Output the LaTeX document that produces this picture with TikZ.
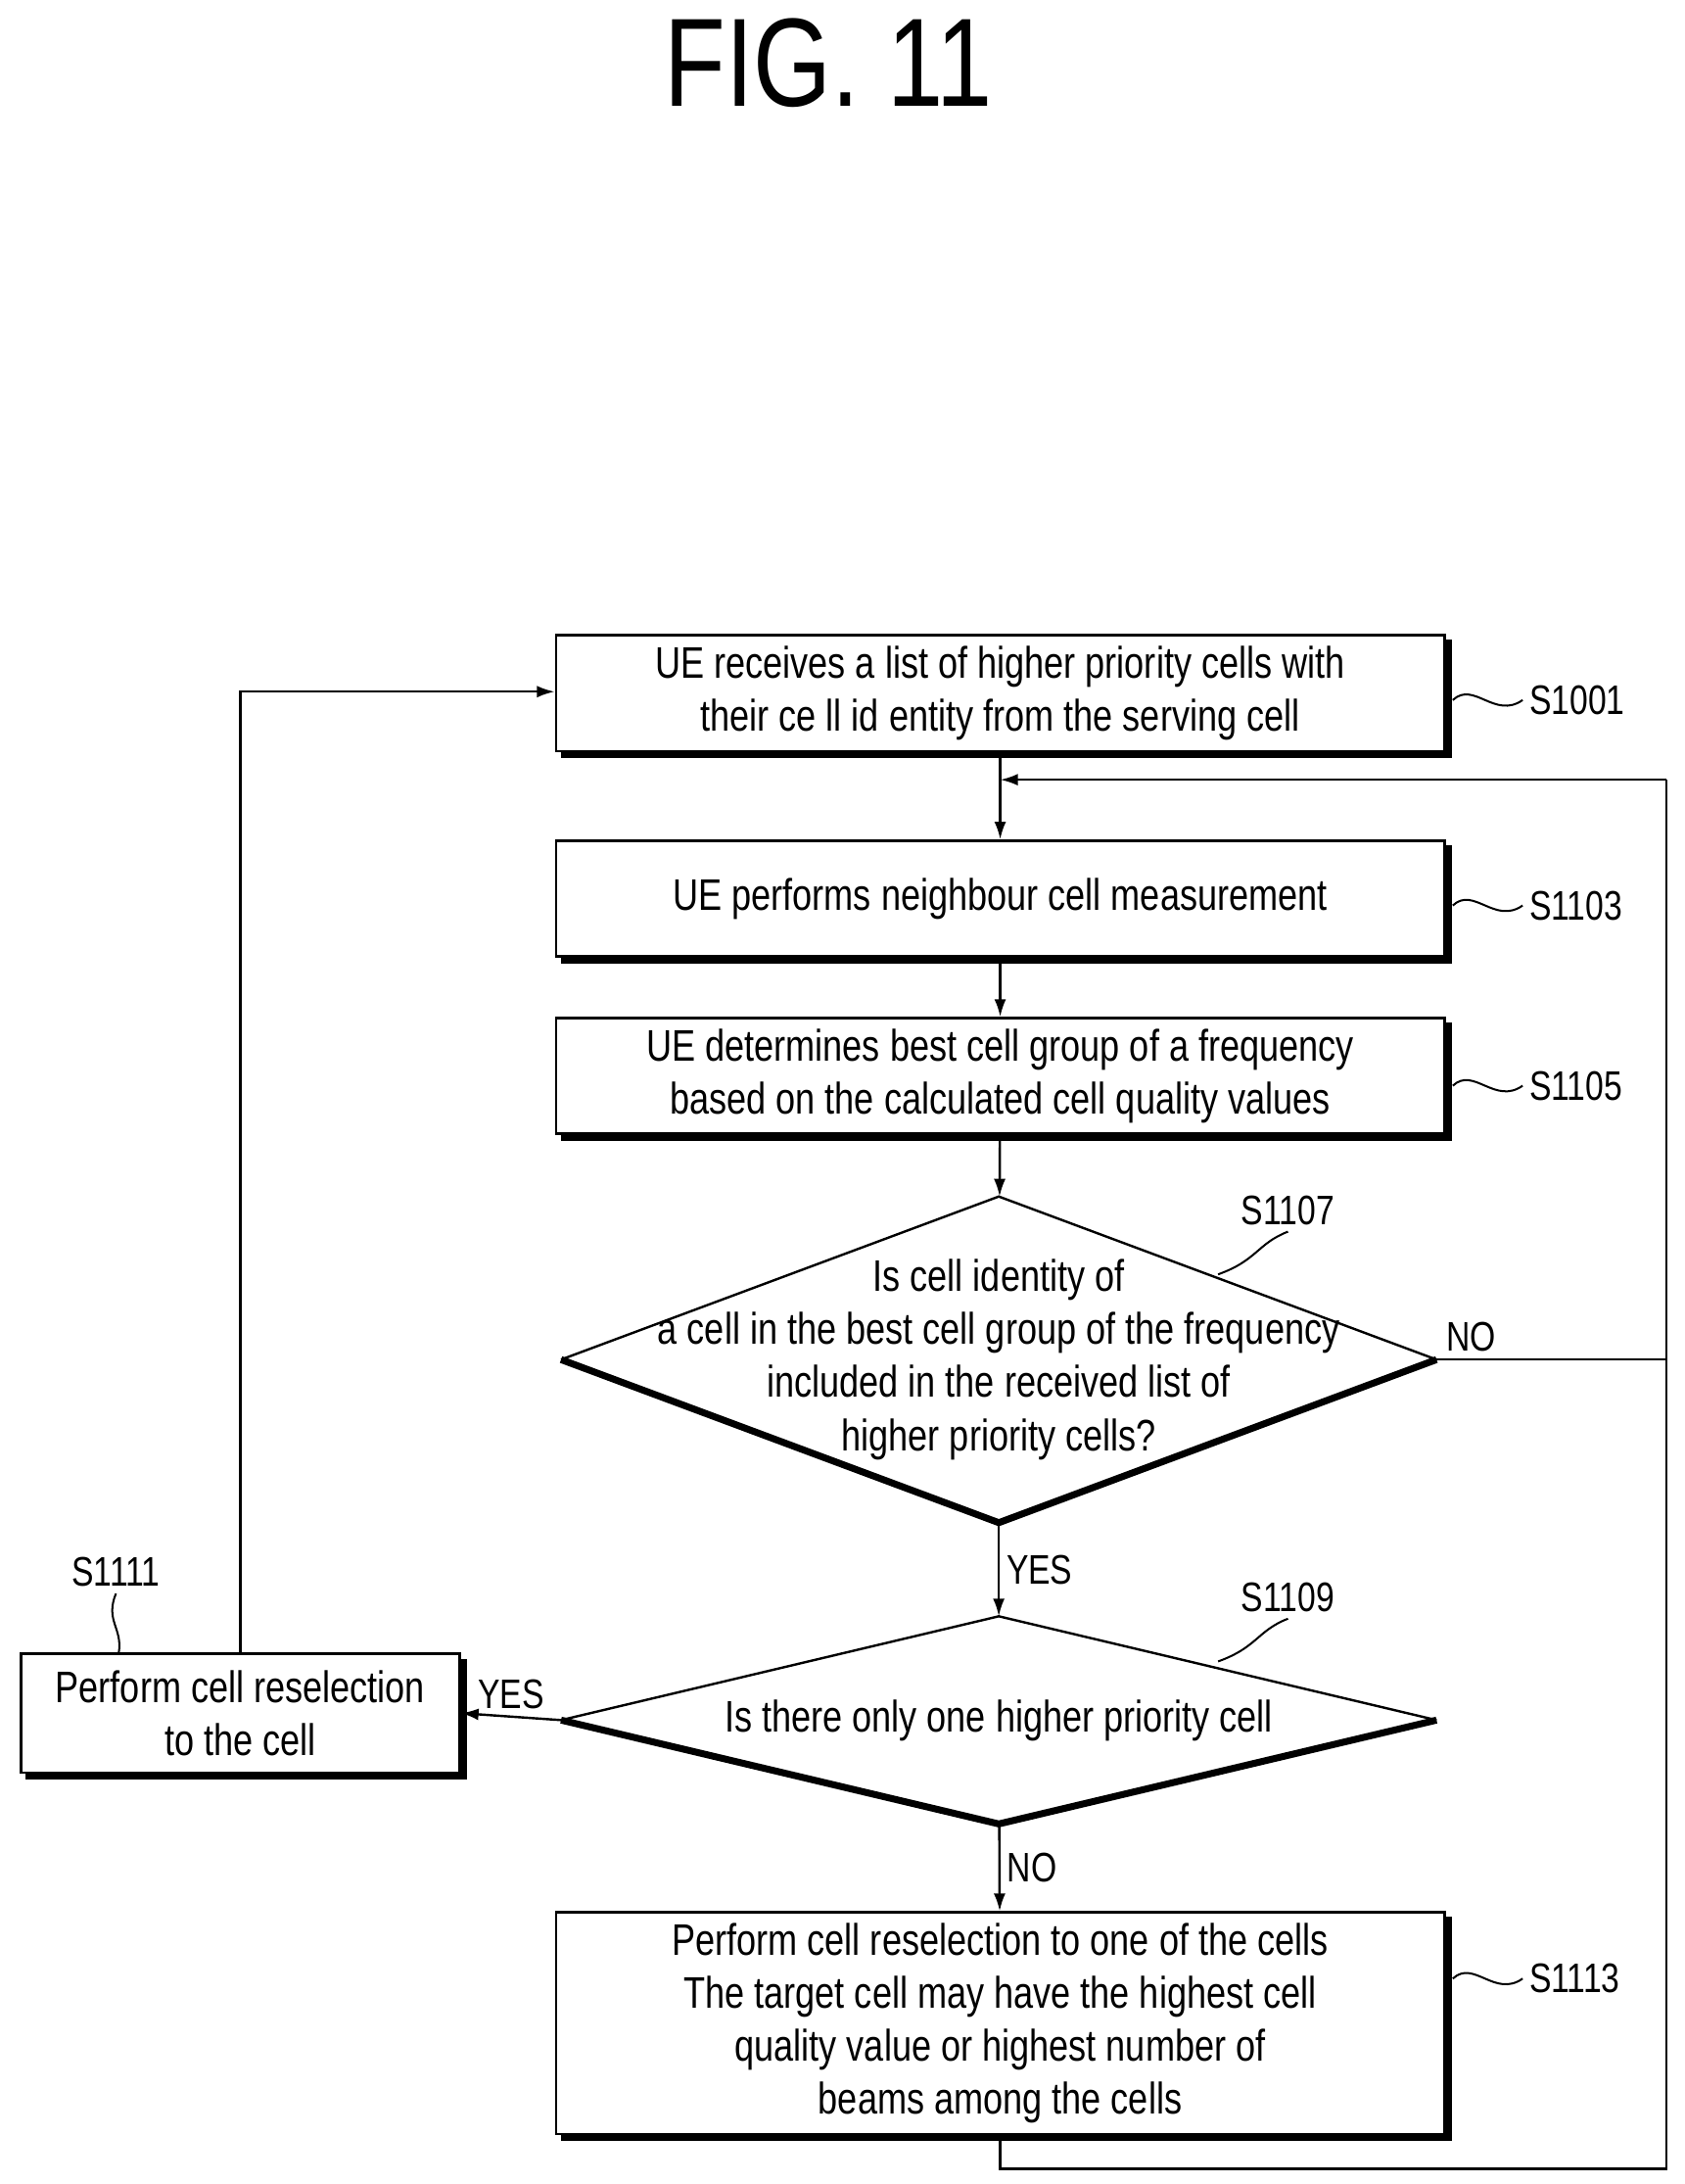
\documentclass[tikz,border=0pt]{standalone}
\usepackage{fontspec}
\setmainfont{Liberation Sans}[FakeStretch=0.8]
\usetikzlibrary{shapes.geometric}
\usetikzlibrary{positioning}
\usetikzlibrary{arrows.meta}

\tikzset{
    process/.style = {draw, line width=1.2pt, minimum width=15.9cm, minimum height=2.07cm,
        align=center, font=\fontsize{22.5}{27}\selectfont},
    choice/.style = {inner sep=0pt, minimum width=15.65cm, align=center,
        font=\fontsize{22.5}{27}\selectfont},
    flow/.style = {line width=1.2pt, -{Latex[length=9pt,width=6pt]}},
    tag/.style = {font=\fontsize{21}{24}\selectfont},
    tilde/.style = {line width=1pt}
}
\newcommand{\boxshade}[1]{%
    \draw[line width=3pt] ([shift={(3pt,-1.5pt)}]#1.south west) -- ([shift={(1.5pt,-1.5pt)}]#1.south east)
        -- ([shift={(1.5pt,-3pt)}]#1.north east);}
\newcommand{\diamondshape}[1]{%
    \draw[line width=1.2pt] (#1.west) -- (#1.north) -- (#1.east);
    \draw[line width=3.5pt, line join=round] (#1.west) -- (#1.south) -- (#1.east);}

\begin{document}
\begin{tikzpicture}[x=0.025cm, y=-0.025cm]
    \useasboundingbox (0,0) rectangle (1206,1563);

    \node[font=\fontsize{64}{68}\selectfont] (fig) at (593,45) {FIG. 11};

    % boxes
    \node[process] (s1001) at (716,496) {UE receives a list of higher priority cells with\\their ce ll id entity from the serving cell};
    \node[process] (s1103) at (716,643) {UE performs neighbour cell measurement};
    \node[process] (s1105) at (716,770) {UE determines best cell group of a frequency\\based on the calculated cell quality values};
    \node[choice, minimum height=5.82cm] (d1107) at (715,973) {Is cell identity of\\a cell in the best cell group of the frequency\\included in the received list of\\higher priority cells?};
    \node[choice, minimum height=3.7cm] (d1109) at (715,1231) {Is there only one higher priority cell};
    \node[process, minimum width=7.85cm, minimum height=2.12cm] (s1111) at (172,1226) {Perform cell reselection\\to the cell};
    \node[process, minimum height=3.97cm] (s1113) at (716,1448) {Perform cell reselection to one of the cells\\The target cell may have the highest cell\\quality value or highest number of\\beams among the cells};

    \boxshade{s1001}
    \boxshade{s1103}
    \boxshade{s1105}
    \boxshade{s1111}
    \boxshade{s1113}
    \diamondshape{d1107}
    \diamondshape{d1109}

    % loop points
    \coordinate (join) at (716,558);
    \coordinate (rtop) at (1193,558);
    \coordinate (rbot) at (1193,1552);
    \coordinate (bot) at (716,1552);
    \coordinate (ltop) at (172,495);

    \draw[flow] (s1001) -- (s1103);
    \draw[flow] (s1103) -- (s1105);
    \draw[flow] (s1105) -- (d1107);
    \draw[flow] (d1107) -- node[right, tag] {YES} (d1109);
    \draw[flow] (d1109) -- node[right, tag] {NO} (s1113);
    \draw[flow] (d1109.west) -- node[above, tag] {YES} (s1111.east);
    \draw[flow] (s1111.north) -- (ltop) -- (s1001.west |- ltop);
    \draw[line width=1.2pt] (s1113.south) -- (bot) -- (rbot) -- (rtop);
    \draw[flow] (rtop) -- (join);
    \draw[line width=1.2pt] (d1107.east) -- node[above, pos=0.15, tag] {NO} (d1107.east -| rtop);

    % step labels
    \node[tag, anchor=west] (l1001) at (1090,501) {S1001};
    \node[tag, anchor=west] (l1103) at (1090,648) {S1103};
    \node[tag, anchor=west] (l1105) at (1090,777) {S1105};
    \node[tag, anchor=west] (l1113) at (1090,1416) {S1113};
    \node[tag] (l1107) at (922,866) {S1107};
    \node[tag] (l1109) at (922,1143) {S1109};
    \node[tag] (l1111) at (83,1125) {S1111};
    \foreach \s/\y in {l1001/501, l1103/648, l1105/777, l1113/1416}
        \draw[tilde] (1040,\y) .. controls (1055,\y-14) and (1070,\y+14) .. (\s.west);
    \draw[tilde] (872,912) .. controls (900,902) and (900,890) .. (l1107.south);
    \draw[tilde] (872,1189) .. controls (900,1179) and (900,1167) .. (l1109.south);
    \draw[tilde] (l1111.south) .. controls (75,1160) and (88,1165) .. (85,1183);
\end{tikzpicture}
\end{document}
